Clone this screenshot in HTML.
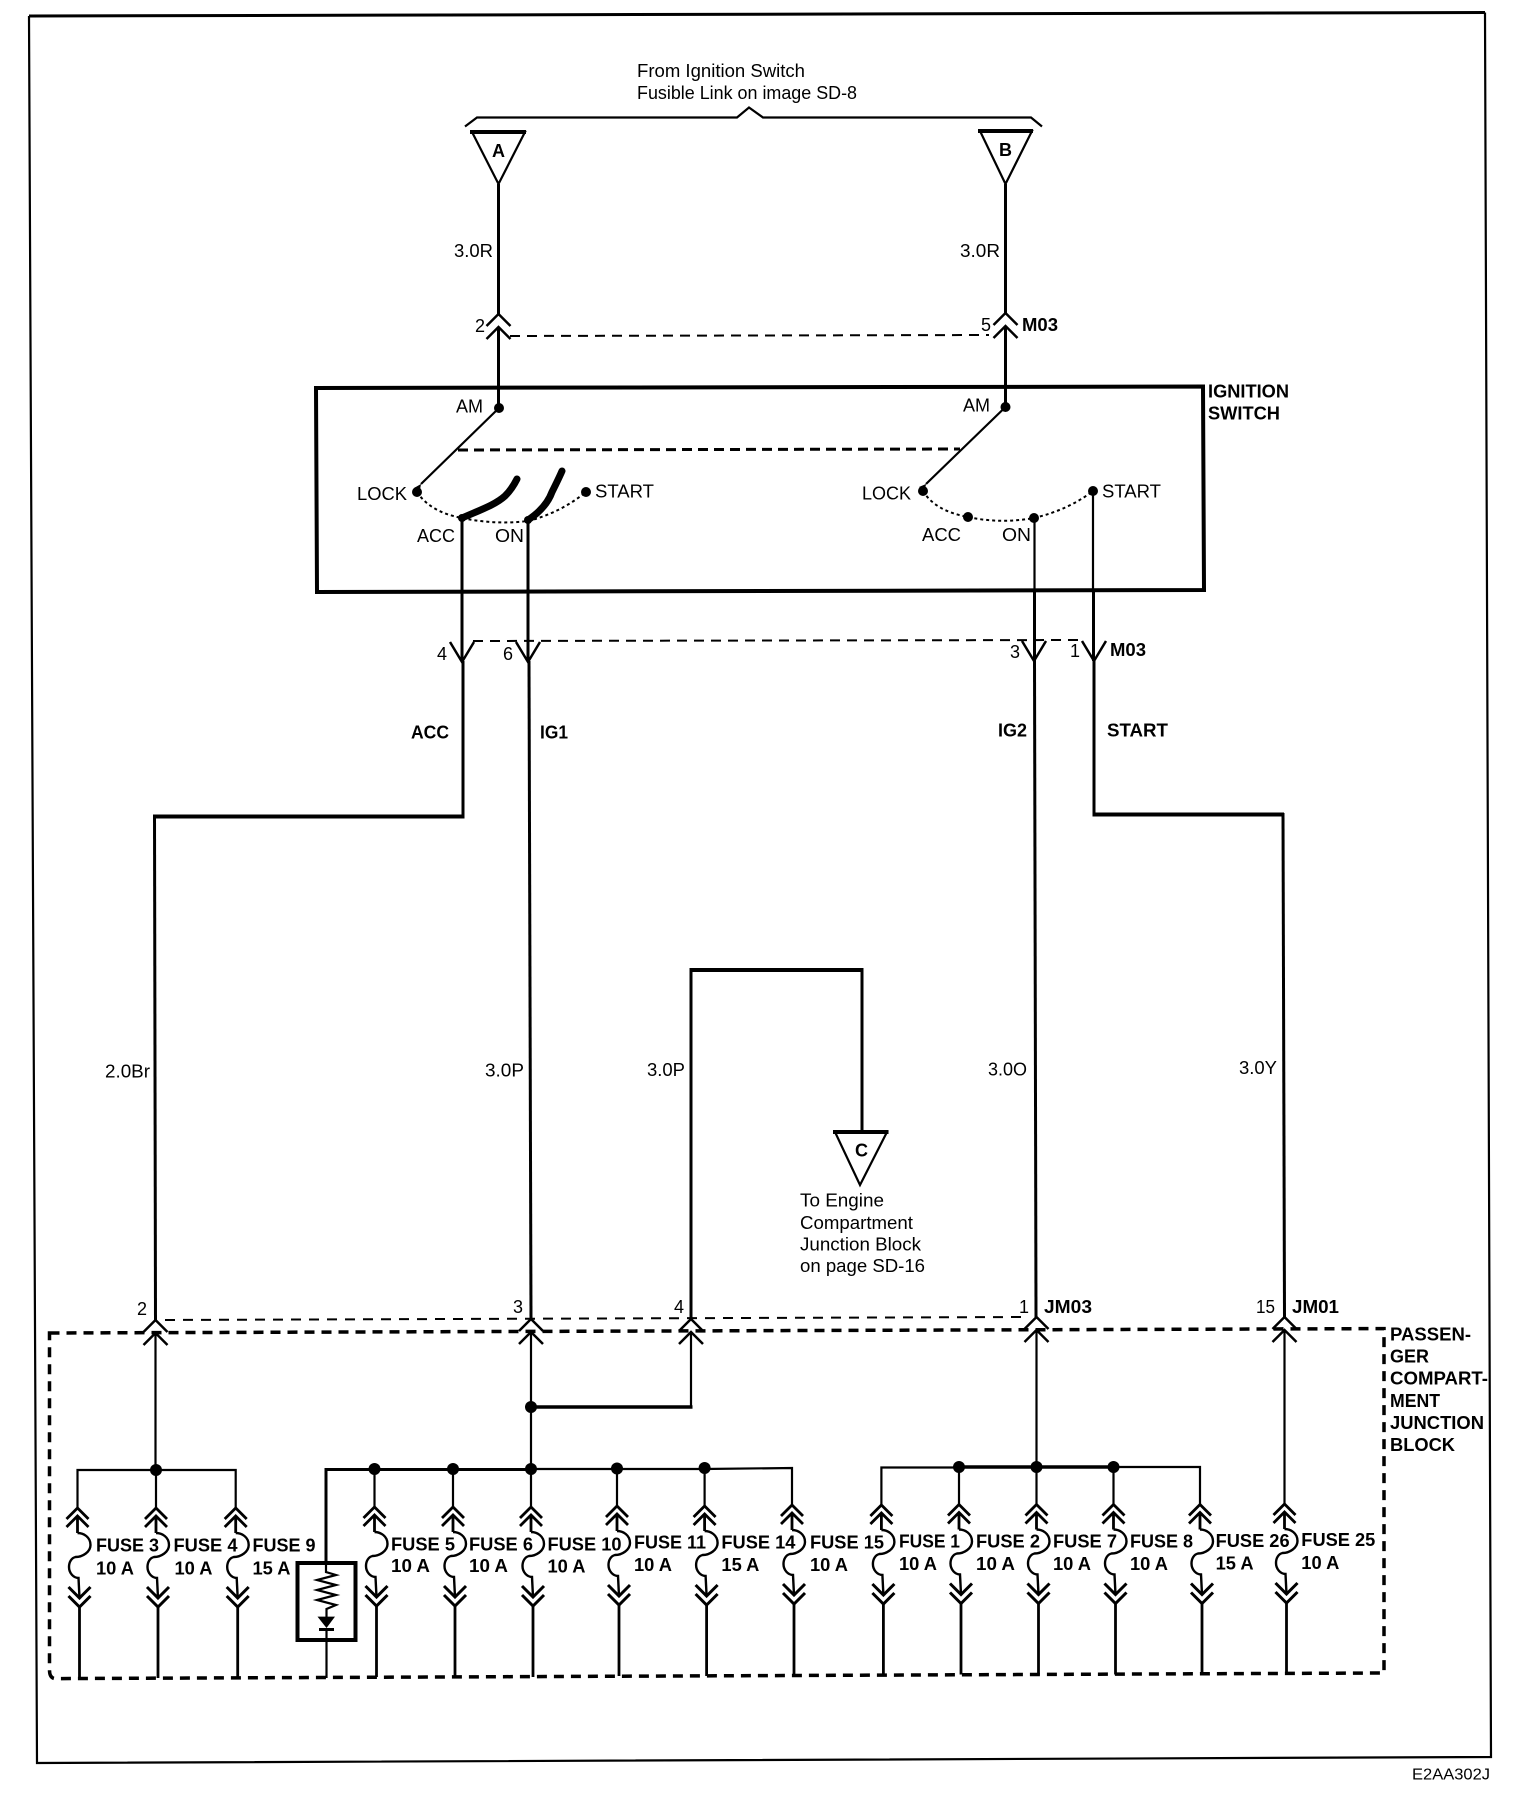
<!DOCTYPE html>
<html><head><meta charset="utf-8"><title>Ignition circuit</title>
<style>
html,body{margin:0;padding:0;background:#fff}
svg{display:block}
text{font-family:"Liberation Sans",sans-serif;font-size:18px;fill:#000}
.b{font-weight:bold}
.w{fill:none;stroke:#000;stroke-width:3}
.t{fill:none;stroke:#000;stroke-width:2.2}
</style></head><body>
<svg width="1536" height="1796" viewBox="0 0 1536 1796" xmlns="http://www.w3.org/2000/svg">
<defs>
<g id="f" fill="none" stroke="#000" stroke-width="2.4">
<path d="M-11,11L0,0L11,11M-11,19L0,8L11,19M0,8V25" stroke-width="2.8"/>
<path d="M0,25C6,25 13,29 13,37C13,44 5,49 -2,49C-6,50 -8.5,54 -8.5,59C-8.5,65 -4,70 1,70L2,90"/>
<path d="M-9,79L2,90L13,79M-9,88L2,99L13,88" stroke-width="3"/>
<path d="M2,99V170" stroke-width="2.8"/>
</g>
<path id="ch" d="M-12,12L0,0L12,12M-12,25L0,13L12,25" fill="none" stroke="#000" stroke-width="2.5"/>
<path id="cd" d="M-12,-20L0,0L12,-20" fill="none" stroke="#000" stroke-width="2.5"/>
</defs>

<!-- outer frame -->
<path d="M29,16L1485,12.5" class="w"/>
<path d="M1485,12.5L1491,1757L37,1763L29,16" class="t"/>

<!-- top text and brace -->
<text x="637" y="77" textLength="168" lengthAdjust="spacingAndGlyphs">From Ignition Switch</text>
<text x="637" y="99" textLength="220" lengthAdjust="spacingAndGlyphs">Fusible Link on image SD-8</text>
<path d="M465,126.5L477,117.5H737L749,107.5L763,117.5H1031L1042,126.5" class="t"/>

<!-- triangles A B -->
<path d="M472,132H525L498.5,184Z" class="t"/><path d="M470,132H526" fill="none" stroke="#000" stroke-width="4"/>
<path d="M980,131H1032L1005.5,184Z" class="t"/><path d="M978,131H1033" fill="none" stroke="#000" stroke-width="4"/>
<text class="b" x="492" y="157" textLength="13" lengthAdjust="spacingAndGlyphs">A</text>
<text class="b" x="999" y="156" textLength="13" lengthAdjust="spacingAndGlyphs">B</text>
<path d="M498.5,184V314M498.5,327V408M1005.5,184V314M1005.5,327V407" class="w"/>
<text x="454" y="257" textLength="39" lengthAdjust="spacingAndGlyphs">3.0R</text>
<text x="960" y="257" textLength="40" lengthAdjust="spacingAndGlyphs">3.0R</text>
<use href="#ch" x="498.5" y="314"/><use href="#ch" x="1005.5" y="313"/>
<path d="M510,336L989,335" fill="none" stroke="#000" stroke-width="2" stroke-dasharray="10 7"/>
<text x="475" y="332">2</text>
<text x="981" y="331">5</text>
<text class="b" x="1022" y="331" textLength="36" lengthAdjust="spacingAndGlyphs">M03</text>

<!-- ignition switch box -->
<path d="M316,388L1203,386.5L1204,590L317,592Z" fill="none" stroke="#000" stroke-width="4"/>
<text class="b" x="1208" y="397.5" textLength="81" lengthAdjust="spacingAndGlyphs">IGNITION</text>
<text class="b" x="1208" y="419.5" textLength="72" lengthAdjust="spacingAndGlyphs">SWITCH</text>
<text x="456" y="412.5" textLength="27" lengthAdjust="spacingAndGlyphs">AM</text>
<text x="963" y="411.5" textLength="27" lengthAdjust="spacingAndGlyphs">AM</text>
<circle cx="499" cy="408" r="5"/><circle cx="1005.5" cy="407" r="5"/>
<path d="M499,408L421,484M1005.5,407L926,484" class="t"/>
<path d="M458,450L960,449" fill="none" stroke="#000" stroke-width="3" stroke-dasharray="10 6"/>
<circle cx="417" cy="492" r="5"/><circle cx="923" cy="491" r="5"/>
<path d="M421,484L414,488L420,490Z M926,484L919,487L925,490Z"/>
<text x="357" y="500" textLength="50" lengthAdjust="spacingAndGlyphs">LOCK</text>
<text x="862" y="499.5" textLength="49" lengthAdjust="spacingAndGlyphs">LOCK</text>
<path d="M417,492Q430,512 462,518Q495,525 528,521Q560,513 586,492" fill="none" stroke="#000" stroke-width="2" stroke-dasharray="3 3"/>
<path d="M923,491Q935,511 968,517Q1000,524 1034,518Q1068,510 1093,491" fill="none" stroke="#000" stroke-width="2" stroke-dasharray="3 3"/>
<path d="M462,518C480,510 495,505 505,496C510,491 514,485 517,479" fill="none" stroke="#000" stroke-width="7" stroke-linecap="round"/>
<path d="M528,520C540,512 548,503 552,492C556,484 559,478 562,471" fill="none" stroke="#000" stroke-width="7" stroke-linecap="round"/>
<circle cx="586" cy="492" r="5"/><circle cx="462" cy="518" r="4"/><circle cx="528" cy="520" r="4"/>
<circle cx="968" cy="517" r="5"/><circle cx="1034" cy="518" r="5"/><circle cx="1093" cy="491" r="5"/>
<text x="595" y="497.5" textLength="59" lengthAdjust="spacingAndGlyphs">START</text>
<text x="1102" y="497.5" textLength="59" lengthAdjust="spacingAndGlyphs">START</text>
<text x="417" y="542" textLength="38" lengthAdjust="spacingAndGlyphs">ACC</text>
<text x="495" y="542" textLength="29" lengthAdjust="spacingAndGlyphs">ON</text>
<text x="922" y="541" textLength="39" lengthAdjust="spacingAndGlyphs">ACC</text>
<text x="1002" y="541" textLength="29" lengthAdjust="spacingAndGlyphs">ON</text>

<!-- wires leaving switch -->
<path d="M462,518V661M528,520V661" class="w"/>
<path d="M1034.5,518V590M1093,491V590" class="t"/>
<path d="M1034.5,590V661M1093.5,590V661" class="w"/>
<path d="M473,641L1082,640" fill="none" stroke="#000" stroke-width="2" stroke-dasharray="10 7"/>
<use href="#cd" x="462" y="662"/><use href="#cd" x="528" y="662"/><use href="#cd" x="1034" y="661"/><use href="#cd" x="1094" y="661"/>
<text x="437" y="660">4</text><text x="503" y="660">6</text><text x="1010" y="658">3</text><text x="1070" y="657">1</text>
<text class="b" x="1110" y="656" textLength="36" lengthAdjust="spacingAndGlyphs">M03</text>
<text class="b" x="411" y="738.5" textLength="38" lengthAdjust="spacingAndGlyphs">ACC</text>
<text class="b" x="540" y="738.5" textLength="28" lengthAdjust="spacingAndGlyphs">IG1</text>
<text class="b" x="998" y="736.5" textLength="29" lengthAdjust="spacingAndGlyphs">IG2</text>
<text class="b" x="1107" y="736.5" textLength="61" lengthAdjust="spacingAndGlyphs">START</text>

<!-- long runs -->
<path d="M463,661V816.5" class="w"/>
<path d="M464.5,816.5H153" fill="none" stroke="#000" stroke-width="4"/>
<path d="M154.5,815L155.5,1320" class="w"/>
<path d="M529,661L531,1320" class="w"/>
<path d="M1034.5,661L1036,1317" class="w"/>
<path d="M1094,661V814.5" class="w"/>
<path d="M1092.5,814.5H1284" fill="none" stroke="#000" stroke-width="4"/>
<path d="M1283,813L1284.5,1318" class="w"/>
<path d="M691,1319V970" class="w"/>
<path d="M689.5,970H863.5" fill="none" stroke="#000" stroke-width="4"/>
<path d="M862,969V1132" class="w"/>
<path d="M835,1132H887L860,1185Z" class="t"/><path d="M833,1132H888.5" fill="none" stroke="#000" stroke-width="4"/>
<text class="b" x="855" y="1156.5" textLength="13" lengthAdjust="spacingAndGlyphs">C</text>
<text x="105" y="1077.5" textLength="45" lengthAdjust="spacingAndGlyphs">2.0Br</text>
<text x="485" y="1076.5" textLength="39" lengthAdjust="spacingAndGlyphs">3.0P</text>
<text x="647" y="1076" textLength="38" lengthAdjust="spacingAndGlyphs">3.0P</text>
<text x="988" y="1075.5" textLength="39" lengthAdjust="spacingAndGlyphs">3.0O</text>
<text x="1239" y="1074" textLength="38" lengthAdjust="spacingAndGlyphs">3.0Y</text>
<text x="800" y="1206.5" textLength="84" lengthAdjust="spacingAndGlyphs">To Engine</text>
<text x="800" y="1229" textLength="113" lengthAdjust="spacingAndGlyphs">Compartment</text>
<text x="800" y="1250.5" textLength="121" lengthAdjust="spacingAndGlyphs">Junction Block</text>
<text x="800" y="1272" textLength="125" lengthAdjust="spacingAndGlyphs">on page SD-16</text>

<!-- connector row -->
<path d="M165,1320L1024,1317" fill="none" stroke="#000" stroke-width="2" stroke-dasharray="10 8"/>
<path d="M49.5,1333L1384,1328.6V1673L55,1678.6Q49.5,1678 49.5,1670Z" fill="none" stroke="#000" stroke-width="3.5" stroke-dasharray="10 7"/>
<use href="#ch" x="155.5" y="1320"/><use href="#ch" x="531" y="1319"/><use href="#ch" x="691" y="1319"/><use href="#ch" x="1036.5" y="1317"/><use href="#ch" x="1284.5" y="1317"/>
<text x="137" y="1315">2</text><text x="513" y="1313">3</text><text x="674" y="1313">4</text><text x="1019" y="1313">1</text>
<text x="1256" y="1313" textLength="19" lengthAdjust="spacingAndGlyphs">15</text>
<text class="b" x="1044" y="1313" textLength="48" lengthAdjust="spacingAndGlyphs">JM03</text>
<text class="b" x="1292" y="1313" textLength="47" lengthAdjust="spacingAndGlyphs">JM01</text>
<text class="b" x="1390" y="1340.5" textLength="81" lengthAdjust="spacingAndGlyphs">PASSEN-</text>
<text class="b" x="1390" y="1362.5" textLength="39" lengthAdjust="spacingAndGlyphs">GER</text>
<text class="b" x="1390" y="1384.5" textLength="98" lengthAdjust="spacingAndGlyphs">COMPART-</text>
<text class="b" x="1390" y="1407" textLength="50" lengthAdjust="spacingAndGlyphs">MENT</text>
<text class="b" x="1390" y="1429" textLength="94" lengthAdjust="spacingAndGlyphs">JUNCTION</text>
<text class="b" x="1390" y="1451" textLength="65" lengthAdjust="spacingAndGlyphs">BLOCK</text>

<!-- vertical stubs into buses -->
<path d="M155.5,1332V1470M531,1332V1469M691,1332V1407M1036.5,1330V1467M1284.5,1330V1505" class="t"/>
<path d="M531,1407H692.5" fill="none" stroke="#000" stroke-width="3.5"/>
<circle cx="531" cy="1407" r="6"/>

<!-- buses -->
<path d="M77.5,1508V1470H235.7V1508" class="t"/>
<path d="M156,1470V1508" class="t"/>
<circle cx="156" cy="1470" r="6"/>
<path d="M326,1563V1469.5H531" class="w"/>
<path d="M531,1469H704L792,1468V1505" class="t"/>
<path d="M374.5,1469V1507M453,1469V1507M531,1469V1507M617,1469V1506M704.6,1469V1506" class="t"/>
<circle cx="374.5" cy="1469" r="6"/><circle cx="453" cy="1469" r="6"/><circle cx="531" cy="1469" r="6"/><circle cx="617" cy="1468.5" r="6"/><circle cx="704.6" cy="1468" r="6"/>
<path d="M881.4,1505V1467.5H959" class="t"/>
<path d="M959,1467H1113.5" fill="none" stroke="#000" stroke-width="3.5"/>
<path d="M1113.5,1467H1200V1505" class="t"/>
<path d="M959,1467V1505M1036.5,1467V1505M1113.5,1467V1505" class="t"/>
<circle cx="959" cy="1467" r="6"/><circle cx="1036.5" cy="1467" r="6"/><circle cx="1113.5" cy="1467" r="6"/>

<!-- fuses -->
<use href="#f" x="77.5" y="1508"/><use href="#f" x="156" y="1508"/><use href="#f" x="235.7" y="1508"/>
<use href="#f" x="374.5" y="1507"/><use href="#f" x="453" y="1507"/><use href="#f" x="531" y="1507"/>
<use href="#f" x="617" y="1506"/><use href="#f" x="704.6" y="1506"/><use href="#f" x="792" y="1505"/>
<use href="#f" x="881.4" y="1505"/><use href="#f" x="959" y="1504.5"/><use href="#f" x="1036.5" y="1504.5"/>
<use href="#f" x="1113.5" y="1504.5"/><use href="#f" x="1200" y="1504.5"/><use href="#f" x="1284.5" y="1504"/>

<!-- relay -->
<rect x="297.5" y="1563" width="58" height="77" fill="#fff" stroke="#000" stroke-width="4"/>
<path d="M326,1563V1572L336,1575L317,1580L336,1585L317,1590L336,1595L317,1600L336,1605L326.5,1609V1617" class="t"/>
<path d="M317.5,1616.6H335L326.5,1628Z"/>
<path d="M319,1629.5H334" class="w"/>
<path d="M326.5,1628V1678" class="t"/>

<!-- fuse labels -->
<text class="b" x="96" y="1551.5" textLength="63" lengthAdjust="spacingAndGlyphs">FUSE 3</text><text class="b" x="96" y="1574.5" textLength="38" lengthAdjust="spacingAndGlyphs">10 A</text>
<text class="b" x="173.5" y="1551.5" textLength="64" lengthAdjust="spacingAndGlyphs">FUSE 4</text><text class="b" x="174.5" y="1574.5" textLength="38" lengthAdjust="spacingAndGlyphs">10 A</text>
<text class="b" x="252.5" y="1551.5" textLength="63" lengthAdjust="spacingAndGlyphs">FUSE 9</text><text class="b" x="252.5" y="1574.5" textLength="38" lengthAdjust="spacingAndGlyphs">15 A</text>
<text class="b" x="391" y="1550.5" textLength="64" lengthAdjust="spacingAndGlyphs">FUSE 5</text><text class="b" x="391" y="1572" textLength="39" lengthAdjust="spacingAndGlyphs">10 A</text>
<text class="b" x="469" y="1550.5" textLength="64" lengthAdjust="spacingAndGlyphs">FUSE 6</text><text class="b" x="469" y="1572" textLength="39" lengthAdjust="spacingAndGlyphs">10 A</text>
<text class="b" x="547.5" y="1550.5" textLength="74" lengthAdjust="spacingAndGlyphs">FUSE 10</text><text class="b" x="547.5" y="1572.5" textLength="38" lengthAdjust="spacingAndGlyphs">10 A</text>
<text class="b" x="634" y="1548.5" textLength="72" lengthAdjust="spacingAndGlyphs">FUSE 11</text><text class="b" x="634" y="1571" textLength="38" lengthAdjust="spacingAndGlyphs">10 A</text>
<text class="b" x="721.4" y="1548.5" textLength="74" lengthAdjust="spacingAndGlyphs">FUSE 14</text><text class="b" x="721.4" y="1571" textLength="38" lengthAdjust="spacingAndGlyphs">15 A</text>
<text class="b" x="810" y="1548.5" textLength="74" lengthAdjust="spacingAndGlyphs">FUSE 15</text><text class="b" x="810" y="1571" textLength="38" lengthAdjust="spacingAndGlyphs">10 A</text>
<text class="b" x="899" y="1547.5" textLength="61" lengthAdjust="spacingAndGlyphs">FUSE 1</text><text class="b" x="899" y="1570" textLength="38" lengthAdjust="spacingAndGlyphs">10 A</text>
<text class="b" x="976" y="1547.5" textLength="64" lengthAdjust="spacingAndGlyphs">FUSE 2</text><text class="b" x="976" y="1570" textLength="39" lengthAdjust="spacingAndGlyphs">10 A</text>
<text class="b" x="1053" y="1547.5" textLength="64" lengthAdjust="spacingAndGlyphs">FUSE 7</text><text class="b" x="1053" y="1570" textLength="38" lengthAdjust="spacingAndGlyphs">10 A</text>
<text class="b" x="1130" y="1547.5" textLength="63" lengthAdjust="spacingAndGlyphs">FUSE 8</text><text class="b" x="1130" y="1570" textLength="38" lengthAdjust="spacingAndGlyphs">10 A</text>
<text class="b" x="1215.6" y="1547" textLength="74" lengthAdjust="spacingAndGlyphs">FUSE 26</text><text class="b" x="1215.6" y="1569.5" textLength="38" lengthAdjust="spacingAndGlyphs">15 A</text>
<text class="b" x="1301.3" y="1546" textLength="74" lengthAdjust="spacingAndGlyphs">FUSE 25</text><text class="b" x="1301.3" y="1569" textLength="38" lengthAdjust="spacingAndGlyphs">10 A</text>
<text x="1412" y="1779.5" style="font-size:16px" textLength="78" lengthAdjust="spacingAndGlyphs">E2AA302J</text>
</svg>
</body></html>
